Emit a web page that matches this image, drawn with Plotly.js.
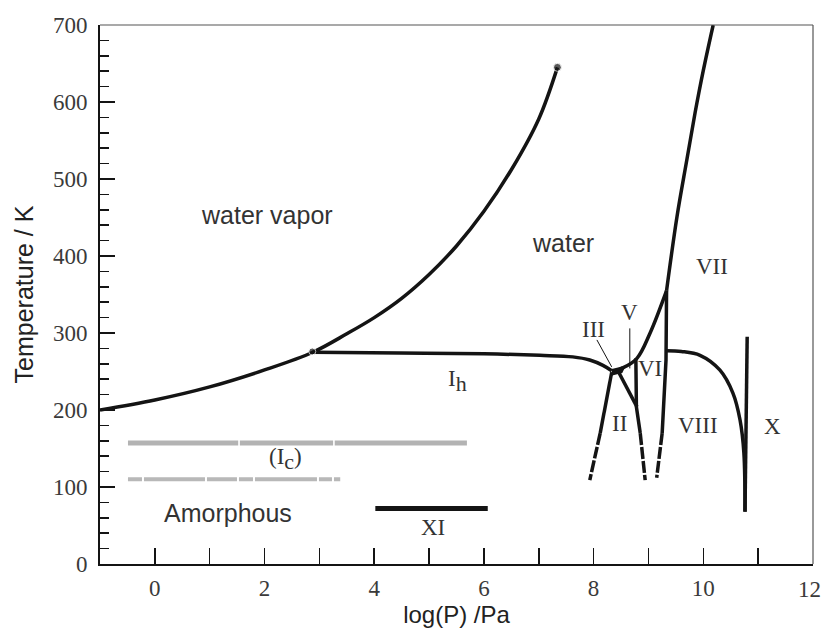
<!DOCTYPE html>
<html><head><meta charset="utf-8">
<script src="https://cdn.plot.ly/plotly-3.0.1.min.js"></script>
<style>html,body{margin:0;padding:0;background:#fff}#chart{width:823px;height:630px}</style>
</head><body><div id="chart"></div>
<script>
// Phase boundaries (x = log(P/Pa), y = T/K)
var vaporX = [-1, 0, 1, 2, 2.88, 3.5, 4.0, 4.5, 5.0, 5.5, 6.0, 6.5, 7.0, 7.34];
var vaporY = [200, 213, 230, 252, 275, 299, 320, 345, 376, 413, 458, 512, 578, 645];
var ihX = [2.87, 4.47, 6.0, 7.02, 7.62, 7.93, 8.17, 8.33];
var ihY = [275, 274, 273, 271, 269, 265, 258, 251];
var liqX = [8.33, 8.54, 8.79, 9.03, 9.33];
var liqY = [251, 255, 267, 300, 355];
var viiX = [9.33, 9.52, 9.70, 9.85, 10.0, 10.18];
var viiY = [355, 451, 525, 586, 641, 700];
var ih2SolidX = [8.33, 8.12];
var ih2SolidY = [249, 170];
var ih2DashX = [8.12, 7.93];
var ih2DashY = [170, 109];
var iiiX = [8.33, 8.50, 8.54];
var iiiY = [247, 250, 256];
var v2X = [8.45, 8.79];
var v2Y = [250, 204];
var v6X = [8.77, 8.78, 8.85];
var v6Y = [267, 204, 170];
var ii6DashX = [8.85, 8.94];
var ii6DashY = [170, 109];
var vi8X = [9.33, 9.32, 9.25];
var vi8Y = [355, 265, 170];
var vi8DashX = [9.25, 9.15];
var vi8DashY = [170, 112];
var viiiX = [9.33, 9.6, 9.94, 10.3, 10.54, 10.67, 10.74, 10.76];
var viiiY = [277, 276, 271, 252, 222, 187, 144, 68];
var xX = [10.80, 10.76];
var xY = [295, 68];
// horizontal bars
var icX = [-0.49, 1.52, null, 1.55, 3.25, null, 3.28, 5.69];
var icY = [157, 157, null, 157, 157, null, 157, 157];
var amX = [-0.49, 3.38];
var amY = [110, 110];
var xiX = [4.02, 6.07];
var xiY = [72, 72];
// special points
var ptX = [7.34, 2.87];
var ptY = [645, 276];
// label pointers
var ptrIIIX = [8.06, 8.33];
var ptrIIIY = [291, 256];
var ptrVX = [8.66, 8.66];
var ptrVY = [306, 254];
// axis ticks
var xTickVals = [0, 2, 4, 6, 8, 10, 12];
var xTickText = ['0', '2', '4', '6', '8', '10', ''];
var xLastTick = '12';
// labels
var sansLabels = [
  {t: 'water vapor', x: 2.04, y: 453},
  {t: 'water', x: 7.44, y: 417},
  {t: 'Amorphous', x: 1.33, y: 66}
];
var serifLabels = [
  {t: '(I<sub><span style="font-size:22px">c</span></sub>)', x: 2.39, y: 137},
  {t: 'XI', x: 5.07, y: 47},
  {t: 'I<sub><span style="font-size:22px">h</span></sub>', x: 5.51, y: 238},
  {t: 'III', x: 7.99, y: 305},
  {t: 'V', x: 8.66, y: 326},
  {t: 'VI', x: 9.03, y: 254},
  {t: 'II', x: 8.48, y: 183},
  {t: 'VIII', x: 9.9, y: 180},
  {t: 'X', x: 11.27, y: 179},
  {t: 'VII', x: 10.16, y: 386}
];

var K = '#141414';
function ln(x, y, w, dash, color, shape) {
  return {x: x, y: y, mode: 'lines', type: 'scatter', hoverinfo: 'skip', showlegend: false,
    line: {color: color || K, width: w, dash: dash || 'solid', shape: shape || 'spline', smoothing: 1}};
}
var traces = [
  ln(vaporX, vaporY, 3.5),
  ln(ihX, ihY, 3.5),
  ln(liqX, liqY, 3.5),
  ln(viiX, viiY, 3.5),
  ln(ih2SolidX, ih2SolidY, 3.5, null, null, 'linear'),
  ln(ih2DashX, ih2DashY, 3.5, '12px,2px', null, 'linear'),
  ln(iiiX, iiiY, 3.5, null, null, 'linear'),
  ln(v2X, v2Y, 3.5, null, null, 'linear'),
  ln(v6X, v6Y, 3.5, null, null, 'linear'),
  ln(ii6DashX, ii6DashY, 3.5, '12px,2px', null, 'linear'),
  ln(vi8X, vi8Y, 3.5, null, null, 'linear'),
  ln(vi8DashX, vi8DashY, 3.5, '12px,2px', null, 'linear'),
  ln(viiiX, viiiY, 3.5),
  ln(xX, xY, 3.5, null, null, 'linear'),
  ln(icX, icY, 5, 'solid', '#b3b3b3', 'linear'),
  ln(amX, amY, 4, '14px,2px,61px,2px,30px,2px,14px,2px,62px,2px,13px,2px,8px', '#b8b8b8', 'linear'),
  ln(xiX, xiY, 5, null, null, 'linear'),
  ln(ptrIIIX, ptrIIIY, 1, null, null, 'linear'),
  ln(ptrVX, ptrVY, 1, null, null, 'linear'),
  {x: ptX, y: ptY, mode: 'markers', type: 'scatter', hoverinfo: 'skip', showlegend: false,
   marker: {color: K, size: [8, 7]}}
];

var serifFam = 'Liberation Serif, Times New Roman, serif';
var tickFont = {family: serifFam, size: 23, color: '#3a3a3a'};
var ann = [];
sansLabels.forEach(function (l) {
  ann.push({x: l.x, y: l.y, text: l.t, showarrow: false, xref: 'x', yref: 'y',
    font: {family: 'Liberation Sans, Arial, sans-serif', size: 25, color: '#333'}});
});
serifLabels.forEach(function (l) {
  ann.push({x: l.x, y: l.y, text: l.t, showarrow: false, xref: 'x', yref: 'y',
    font: {family: serifFam, size: 23, color: '#333'}});
});
// last x tick label kept inside the page edge
ann.push({x: 1, y: 0, xref: 'paper', yref: 'paper', xanchor: 'right', yanchor: 'top',
  xshift: 10, yshift: -11, text: xLastTick, showarrow: false, font: tickFont});

var titleFont = {family: 'Liberation Sans, Arial, sans-serif', size: 24, color: '#222'};
var layout = {
  width: 823, height: 630,
  margin: {l: 100, r: 10, t: 25, b: 66},
  paper_bgcolor: '#fff', plot_bgcolor: '#fff',
  showlegend: false,
  xaxis: {
    range: [-1, 12], tickmode: 'array', tickvals: xTickVals, ticktext: xTickText,
    ticks: 'inside', ticklen: 16, tickwidth: 1.5, tickcolor: K,
    minor: {dtick: 1, tick0: 0, ticks: 'inside', ticklen: 16, tickwidth: 1.5, tickcolor: K, showgrid: false},
    showgrid: false, zeroline: false, showline: true, linecolor: K, linewidth: 2, mirror: false,
    tickfont: tickFont, ticklabelstandoff: 2,
    title: {text: 'log(P) /Pa', font: titleFont, standoff: 2}
  },
  yaxis: {
    range: [0, 700.0001], tick0: 0, dtick: 100, ticks: 'inside', ticklen: 15, tickwidth: 1.5, tickcolor: K,
    minor: {dtick: 20, ticks: 'inside', ticklen: 9, tickwidth: 1.5, tickcolor: K, showgrid: false},
    showgrid: false, zeroline: false, showline: true, linecolor: K, linewidth: 2, mirror: false,
    tickfont: tickFont, ticklabelstandoff: 6, ticklabeloverflow: 'allow',
    title: {text: 'Temperature / K', font: {family: 'Liberation Sans, Arial, sans-serif', size: 25, color: '#222'}, standoff: 12}
  },
  shapes: [
    {type: 'line', xref: 'paper', yref: 'paper', x0: 0, x1: 1, y0: 1, y1: 1, line: {color: '#555', width: 1.2}},
    {type: 'line', xref: 'paper', yref: 'paper', x0: 1, x1: 1, y0: 0, y1: 1, line: {color: '#555', width: 1.2}}
  ],
  annotations: ann
};
Plotly.newPlot('chart', traces, layout, {displayModeBar: false, staticPlot: true});
</script></body></html>
